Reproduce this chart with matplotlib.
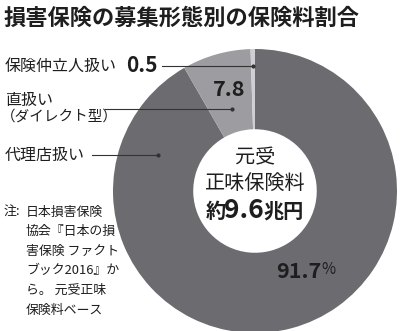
import matplotlib.pyplot as plt

plt.rcParams['font.family'] = ['Noto Sans CJK JP', 'DejaVu Sans']

# data
title = "損害保険の募集形態別の保険料割合"
channels = ["代理店扱い", "直扱い\n（ダイレクト型）", "保険仲立人扱い"]
shares = [91.7, 7.8, 0.5]
colors = ["#6b6b70", "#9c9ca1", "#cfcfd3"]
total_label = "9.6"
note = ["日本損害保険", "協会『日本の損", "害保険 ファクト", "ブック2016』か", "ら。 元受正味", "保険料ベース"]

W, H = 400, 331
fig = plt.figure(figsize=(W / 100, H / 100), dpi=100)
ax = fig.add_axes([0, 0, 1, 1])
ax.set_xlim(0, W)
ax.set_ylim(0, H)
ax.set_aspect('equal')
ax.axis('off')


def Y(py):
    return H - py


cx, cy, r = 255, Y(191), 142
ax.pie(shares, colors=colors, startangle=90, counterclock=False,
       center=(cx, cy), radius=r,
       wedgeprops=dict(width=r * 0.565, edgecolor='none'))
ax.set_xlim(0, W)
ax.set_ylim(0, H)

dark = "#1e1e1e"
ax.text(4, Y(18), title, fontsize=16, fontweight='bold', color=dark, va='center', ha='left')

# labels with leader lines
ax.text(5, Y(66), channels[2], fontsize=11.5, color=dark, va='center')
ax.text(126, Y(66), f"{shares[2]}", fontsize=15, fontweight='bold', color=dark, va='center',
        fontstretch='condensed')
ax.plot([162, 253], [Y(66), Y(66)], color="#333333", lw=0.8)
ax.plot([253], [Y(66)], 'o', color="#333333", ms=2)

lines = channels[1].split("\n")
ax.text(5, Y(100), lines[0], fontsize=11.5, color=dark, va='center')
ax.text(1, Y(117), lines[1], fontsize=10.5, color=dark, va='center')
ax.plot([105, 232], [Y(109), Y(109)], color="#333333", lw=0.8)
ax.plot([232], [Y(109)], 'o', color="#333333", ms=2)
ax.text(229, Y(90), f"{shares[1]}", fontsize=15.5, fontweight='bold', color=dark,
        va='center', ha='center', fontstretch='condensed')

ax.text(5, Y(155), channels[0], fontsize=11.5, color=dark, va='center')
ax.plot([92, 158], [Y(155), Y(155)], color="#333333", lw=0.8)
ax.plot([158], [Y(155)], 'o', color="#333333", ms=2)
ax.text(321, Y(271), f"{shares[0]}", fontsize=15.5, fontweight='bold', color=dark,
        va='center', ha='right', fontstretch='condensed')
ax.text(321, Y(270), "%", fontsize=11, color=dark, va='center', ha='left')

# center text
ax.text(cx, Y(158), "元受", fontsize=14.5, color=dark, va='center', ha='center')
ax.text(cx, Y(184), "正味保険料", fontsize=14.5, color=dark, va='center', ha='center')
ax.text(226, Y(211), "約", fontsize=14.5, color=dark, va='center', ha='right', fontweight='bold')
ax.text(244, Y(210), total_label, fontsize=19, color=dark, va='center', ha='center',
        fontweight='bold', fontstretch='condensed')
ax.text(263, Y(211), "兆円", fontsize=14.5, color=dark, va='center', ha='left', fontweight='bold')

# note
ax.text(4, Y(212), "注:", fontsize=9.3, color=dark, va='center')
for i, s in enumerate(note):
    ax.text(26, Y(212 + i * 19.6), s, fontsize=9.3, color=dark, va='center')

fig.savefig("out.png", dpi=100)
